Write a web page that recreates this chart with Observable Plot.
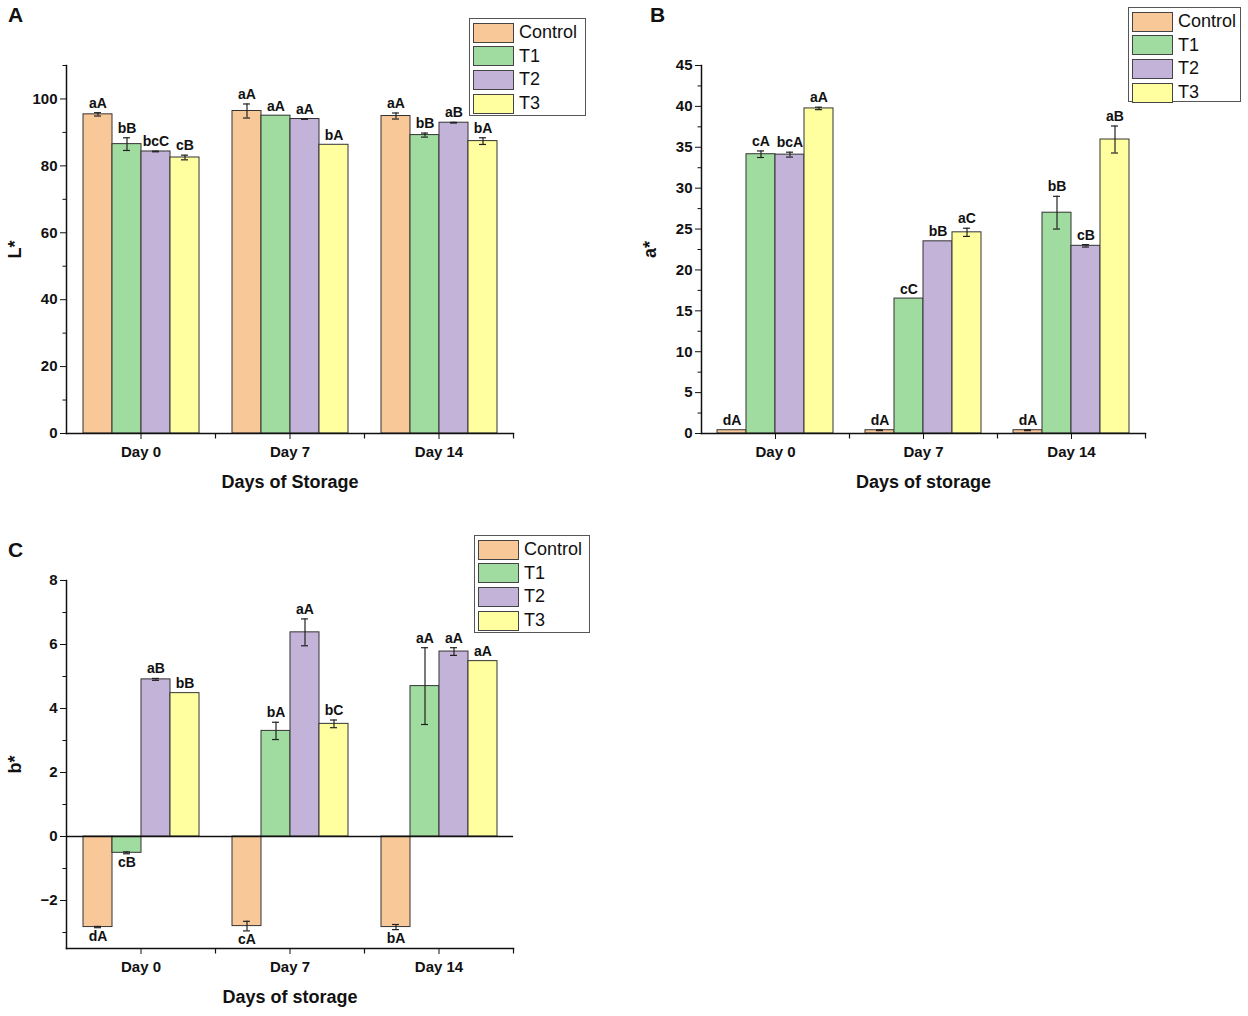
<!DOCTYPE html>
<html>
<head>
<meta charset="utf-8">
<script src="https://cdn.jsdelivr.net/npm/d3@7"></script>
<script src="https://cdn.jsdelivr.net/npm/@observablehq/plot@0.6"></script>
<style>
  html, body { margin: 0; padding: 0; background: white; }
  #page { position: relative; width: 1248px; height: 1016px; background: white; font-family: "Liberation Sans", Arial, sans-serif; }
  .panel { position: absolute; }
  .panel svg { overflow: visible; }
  .letter { position: absolute; font-weight: bold; font-size: 21px; color: #111; }
  .legend { position: absolute; border: 1px solid #555; background: white; box-sizing: border-box; padding: 2px 0 0 3px; }
  .legend .row { display: flex; align-items: center; height: 23.6px; }
  .legend .sw { width: 41px; height: 20px; border: 1px solid #444; box-sizing: border-box; margin-right: 5px; }
  .legend .tx { font-size: 18px; color: #111; }
  svg g[aria-label="fx-axis label"] text { font-size: 18px; }
  svg g[aria-label="y-axis label"] text { font-size: 18px; }
</style>
</head>
<body>
<div id="page"></div>
<script>
// ---------- data ----------
const days = ["Day 0", "Day 7", "Day 14"];
const treatments = ["Control", "T1", "T2", "T3"];
const colors = ["#F9C898", "#A0DB9F", "#C4B3D8", "#FFFFA0"];

// L* (rows = days, cols = treatments)
const lMean = [[95.4, 86.5, 84.3, 82.5], [96.4, 95.0, 94.0, 86.3], [94.9, 89.2, 92.9, 87.4]];
const lErr = [[0.5, 1.9, 0.1, 0.7], [2.1, 0.0, 0.1, 0.0], [0.9, 0.6, 0.1, 1.0]];
const lLetters = [["aA", "bB", "bcC", "cB"], ["aA", "aA", "aA", "bA"], ["aA", "bB", "aB", "bA"]];
const lTicks = [0, 20, 40, 60, 80, 100];
const lMinor = [10, 30, 50, 70, 90, 110];

// a*
const aMean = [[0.4, 34.15, 34.1, 39.75], [0.4, 16.5, 23.5, 24.6], [0.4, 27.0, 22.95, 35.95]];
const aErr = [[0.0, 0.4, 0.3, 0.15], [0.05, 0.0, 0.0, 0.5], [0.05, 2.0, 0.15, 1.65]];
const aLetters = [["dA", "cA", "bcA", "aA"], ["dA", "cC", "bB", "aC"], ["dA", "bB", "cB", "aB"]];
const aTicks = [0, 5, 10, 15, 20, 25, 30, 35, 40, 45];
const aMinor = [2.5, 7.5, 12.5, 17.5, 22.5, 27.5, 32.5, 37.5, 42.5];

// b*
const bMean = [[-2.83, -0.51, 4.91, 4.48], [-2.8, 3.3, 6.38, 3.52], [-2.83, 4.7, 5.78, 5.48]];
const bErr = [[0.02, 0.03, 0.03, 0.0], [0.15, 0.27, 0.42, 0.12], [0.08, 1.2, 0.12, 0.0]];
const bLetters = [["dA", "cB", "aB", "bB"], ["cA", "bA", "aA", "bC"], ["bA", "aA", "aA", "aA"]];
const bTicks = [-2, 0, 2, 4, 6, 8];
const bMinor = [-3, -1, 1, 3, 5, 7];

// ---------- helpers ----------
function buildRows(mean, err, letters) {
  return days.flatMap((day, i) => treatments.map((t, j) => ({
    day, treatment: t, value: mean[i][j], err: err[i][j], letter: letters[i][j]
  })));
}

const downTick = { draw(ctx) { ctx.moveTo(0, 0); ctx.lineTo(0, 5); } };

function panel({ rows, yDomain, yTicks, yMinor, yLabel, xLabel, width, height, margin, zeroLine }) {
  const pos = rows.filter(d => d.value >= 0);
  const neg = rows.filter(d => d.value < 0);
  const withErr = rows.filter(d => d.err > 0);
  const marks = [
    Plot.barY(rows, { fx: "day", x: "treatment", y: "value", fill: "treatment", stroke: "#333", strokeWidth: 1 }),
    Plot.ruleX(withErr, { fx: "day", x: "treatment", y1: d => d.value - d.err, y2: d => d.value + d.err, stroke: "#222", strokeWidth: 1.2 }),
    Plot.tickY(withErr, { fx: "day", x: "treatment", y: d => d.value + d.err, insetLeft: 11, insetRight: 11, stroke: "#222", strokeWidth: 1.2 }),
    Plot.tickY(withErr, { fx: "day", x: "treatment", y: d => d.value - d.err, insetLeft: 11, insetRight: 11, stroke: "#222", strokeWidth: 1.2 }),
    Plot.text(pos, { fx: "day", x: "treatment", y: d => d.value + d.err, text: "letter", lineAnchor: "bottom", dy: -5, fontSize: 14, fontWeight: "bold", fill: "#111" }),
    Plot.text(neg, { fx: "day", x: "treatment", y: d => d.value - d.err, text: "letter", lineAnchor: "top", dy: 3, fontSize: 14, fontWeight: "bold", fill: "#111" }),
    Plot.frame({ anchor: "left", facet: "super", stroke: "#111", strokeWidth: 1.5 }),
    Plot.frame({ anchor: "bottom", facet: "super", stroke: "#111", strokeWidth: 1.5 }),
    Plot.dot(days.slice(1), { fx: d => d, frameAnchor: "bottom-left", symbol: downTick, stroke: "#111", strokeWidth: 1.2 }),
    Plot.dot(days.slice(-1), { fx: d => d, frameAnchor: "bottom-right", symbol: downTick, stroke: "#111", strokeWidth: 1.2 }),
    Plot.axisY(yTicks, { tickSize: 6, tickPadding: 3, fontSize: 15, fontWeight: "bold", label: yLabel, labelArrow: "none", labelAnchor: "center", labelOffset: 58, tickFormat: d => d < 0 ? "\u2212" + Math.abs(d) : String(d) }),
    Plot.axisY(yMinor, { tickSize: 3.5, tickFormat: () => "", label: null }),
    Plot.axisFx({ anchor: "bottom", tickSize: 6, tickPadding: 7, fontSize: 15, fontWeight: "bold", label: xLabel, labelArrow: "none", labelAnchor: "center", labelOffset: 54 })
  ];
  if (zeroLine) marks.push(Plot.ruleY([0], { stroke: "#111", strokeWidth: 1.5 }));
  return Plot.plot({
    width, height,
    marginLeft: margin[0], marginRight: margin[1], marginTop: margin[2], marginBottom: margin[3],
    style: { fontFamily: "'Liberation Sans', Arial, sans-serif", color: "#111", background: "transparent", overflow: "visible" },
    fx: { domain: days, padding: 0, label: null },
    x: { domain: treatments, paddingInner: 0, paddingOuter: 0.525, axis: null },
    y: { domain: yDomain, label: null },
    color: { domain: treatments, range: colors },
    marks
  });
}

function legend(left, top, w, h) {
  const div = document.createElement("div");
  div.className = "legend";
  Object.assign(div.style, { left: left + "px", top: top + "px", width: w + "px", height: h + "px" });
  treatments.forEach((t, i) => {
    const row = document.createElement("div");
    row.className = "row";
    const sw = document.createElement("div");
    sw.className = "sw";
    sw.style.background = colors[i];
    const tx = document.createElement("div");
    tx.className = "tx";
    tx.textContent = t;
    row.appendChild(sw); row.appendChild(tx);
    div.appendChild(row);
  });
  return div;
}

function place(node, left, top) {
  const d = document.createElement("div");
  d.className = "panel";
  d.style.left = left + "px"; d.style.top = top + "px";
  d.appendChild(node);
  return d;
}

function letter(txt, left, top) {
  const d = document.createElement("div");
  d.className = "letter";
  d.style.left = left + "px"; d.style.top = top + "px";
  d.textContent = txt;
  return d;
}

// ---------- build ----------
const page = document.getElementById("page");

page.appendChild(place(panel({
  rows: buildRows(lMean, lErr, lLetters), yDomain: [0, 110], yTicks: lTicks, yMinor: lMinor,
  yLabel: "L*", xLabel: "Days of Storage", width: 600, height: 500, margin: [66, 87, 65, 67]
}), 0, 0));

page.appendChild(place(panel({
  rows: buildRows(aMean, aErr, aLetters), yDomain: [0, 45], yTicks: aTicks, yMinor: aMinor,
  yLabel: "a*", xLabel: "Days of storage", width: 600, height: 500, margin: [66, 89, 65, 67]
}), 634, 0));

page.appendChild(place(panel({
  rows: buildRows(bMean, bErr, bLetters), yDomain: [-3.5, 8], yTicks: bTicks, yMinor: bMinor,
  yLabel: "b*", xLabel: "Days of storage", width: 600, height: 496, margin: [66, 87, 60, 68], zeroLine: true
}), 0, 520));

page.appendChild(letter("A", 8, 3));
page.appendChild(letter("B", 650, 3));
page.appendChild(letter("C", 8, 538));

page.appendChild(legend(469, 18, 117, 98));
page.appendChild(legend(1128, 7, 113, 95));
page.appendChild(legend(474, 535, 116, 98));
</script>
</body>
</html>
